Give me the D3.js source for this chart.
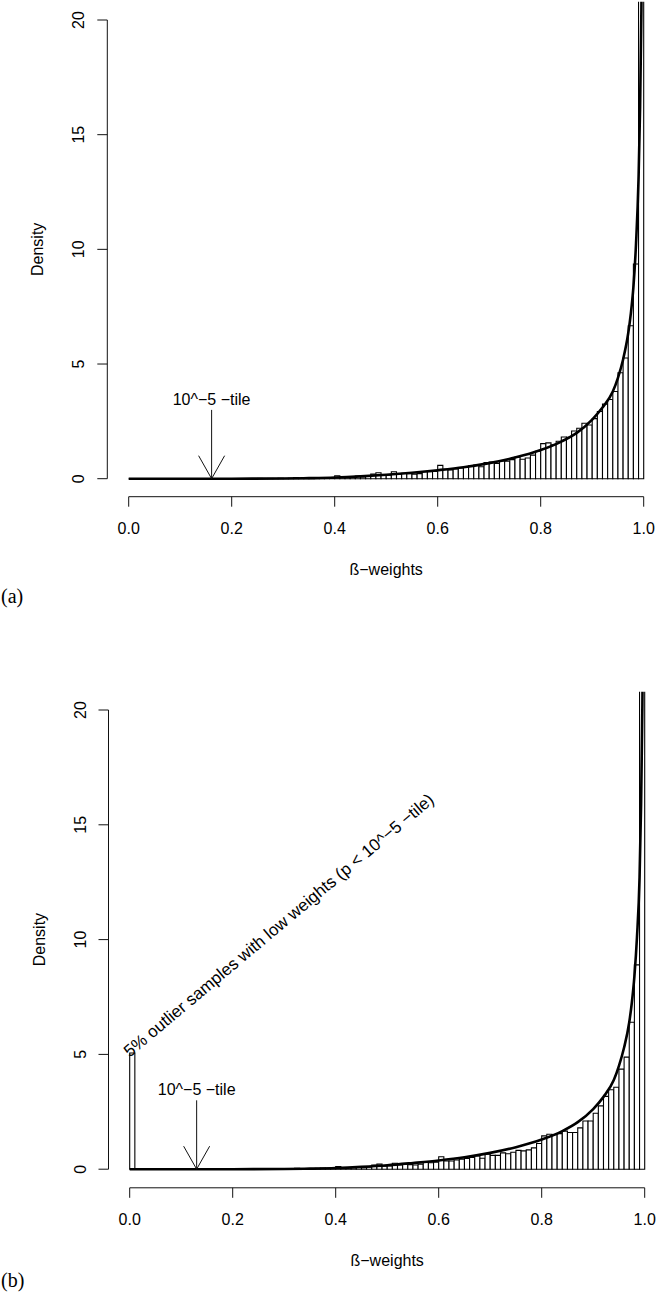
<!DOCTYPE html>
<html>
<head>
<meta charset="utf-8">
<script src="https://cdn.jsdelivr.net/npm/d3@7"></script>
<style>
  body { margin: 0; background: #fff; }
  svg { display: block; }
</style>
</head>
<body>
<div id="chart"></div>
<script>
// histogram bins are 0.01 wide, lower edges 0.00 .. 0.99
const binWidth = 0.01;

// panel (a): densities per bin (last bin runs off the top)
const densityA = [
  0, 0, 0, 0, 0, 0, 0, 0, 0, 0,
  0, 0, 0, 0, 0, 0, 0, 0, 0, 0,
  0, 0, 0, 0.01, 0, 0.01, 0, 0.01, 0.01, 0.02,
  0.01, 0.02, 0.05, 0.02, 0.03, 0.05, 0.04, 0.04, 0.05, 0.04,
  0.13, 0.05, 0.06, 0.07, 0.12, 0.08, 0.1, 0.2, 0.26, 0.14,
  0.15, 0.3, 0.2, 0.24, 0.22, 0.2, 0.22, 0.3, 0.3, 0.32,
  0.58, 0.4, 0.38, 0.43, 0.47, 0.5, 0.56, 0.6, 0.52, 0.7,
  0.73, 0.66, 0.77, 0.76, 0.83, 0.94, 0.85, 0.9, 1.03, 1.2,
  1.53, 1.56, 1.48, 1.63, 1.82, 1.8, 2.08, 2.2, 2.42, 2.34,
  2.62, 2.93, 3.25, 3.45, 3.8, 4.62, 5.26, 6.67, 9.36, 30
];

// panel (b): same data with 5% outliers in the first bin
const densityB = [
  5.06, 0, 0, 0, 0, 0, 0, 0, 0, 0,
  0, 0, 0, 0, 0, 0, 0, 0, 0, 0,
  0, 0, 0, 0, 0.01, 0, 0.01, 0.01, 0, 0.02,
  0.02, 0.01, 0.04, 0.02, 0.03, 0.03, 0.04, 0.05, 0.04, 0.05,
  0.11, 0.05, 0.06, 0.06, 0.1, 0.07, 0.09, 0.18, 0.22, 0.13,
  0.14, 0.26, 0.19, 0.22, 0.2, 0.18, 0.22, 0.29, 0.28, 0.3,
  0.54, 0.36, 0.36, 0.4, 0.44, 0.47, 0.51, 0.58, 0.48, 0.65,
  0.6, 0.6, 0.71, 0.67, 0.74, 0.82, 0.8, 0.84, 0.93, 1.12,
  1.45, 1.52, 1.5, 1.55, 1.66, 1.6, 1.6, 1.8, 2.1, 2.1,
  2.44, 2.76, 3.17, 3.46, 3.57, 4.36, 4.88, 6.4, 8.9, 30
];

// fitted density curves [x, density]
const curveA = [
  [0, 0], [0.2, 0.001], [0.3, 0.01], [0.35, 0.025], [0.4, 0.05], [0.45, 0.1],
  [0.5, 0.17], [0.55, 0.26], [0.6, 0.37], [0.65, 0.5], [0.7, 0.68], [0.75, 0.92],
  [0.8, 1.25], [0.84, 1.62], [0.87, 2.0], [0.9, 2.58], [0.92, 3.1], [0.94, 3.8],
  [0.95, 4.4], [0.96, 5.2], [0.97, 6.35], [0.975, 7.2], [0.98, 8.35], [0.985, 10.2],
  [0.99, 13.1], [0.993, 16.2], [0.995, 19.5], [0.997, 24.5], [0.999, 45]
];
const curveB = [
  [0, 0], [0.2, 0.001], [0.3, 0.01], [0.35, 0.025], [0.4, 0.05], [0.45, 0.1],
  [0.5, 0.17], [0.55, 0.27], [0.6, 0.38], [0.65, 0.52], [0.7, 0.71], [0.75, 0.96],
  [0.8, 1.29], [0.84, 1.66], [0.87, 2.05], [0.9, 2.62], [0.92, 3.15], [0.94, 3.88],
  [0.95, 4.5], [0.96, 5.3], [0.97, 6.4], [0.975, 7.25], [0.98, 8.4], [0.985, 10.1],
  [0.99, 12.7], [0.993, 15.9], [0.995, 19.3], [0.997, 24.5], [0.999, 45]
];

const xTicks = [0, 0.2, 0.4, 0.6, 0.8, 1.0];
const yTicks = [0, 5, 10, 15, 20];

// 10^-5 quantile arrows: x position and top of the arrow (density units)
const tileA = { x: 0.161, top: 3.0 };
const tileB = { x: 0.13, top: 3.0 };
const outlierNote = { x: 0, y: 4.85, text: "5% outlier samples with low weights (p < 10^\u22125 \u2212tile)" };

const sans = "'Liberation Sans', Arial, Helvetica, sans-serif";
const ink = "#111";

const svg = d3.select("#chart").append("svg")
  .attr("width", 659)
  .attr("height", 1300);

function drawPanel(cfg) {
  const x = d3.scaleLinear().domain([0, 1]).range(cfg.xRange);
  const y = d3.scaleLinear().domain([0, 20]).range(cfg.yRange);
  const g = svg.append("g");

  // plot region (R pads the limits by 4%)
  const clipId = "clip-" + cfg.id;
  g.append("clipPath").attr("id", clipId)
    .append("rect")
    .attr("x", x(-0.04)).attr("y", y(20.8))
    .attr("width", x(1.04) - x(-0.04))
    .attr("height", y(-0.8) - y(20.8));

  const plot = g.append("g").attr("clip-path", `url(#${clipId})`);

  // bars as paths so zero-height bins still show their outline
  plot.selectAll("path.bar")
    .data(cfg.density)
    .enter()
    .append("path")
    .attr("class", "bar")
    .attr("d", (d, i) => {
      const x0 = x(i * binWidth), x1 = x((i + 1) * binWidth);
      return `M${x0},${y(0)}V${y(d)}H${x1}V${y(0)}Z`;
    })
    .attr("fill", "#fff")
    .attr("stroke", "#000")
    .attr("stroke-width", 1.1);

  const line = d3.line()
    .x((d) => x(d[0]))
    .y((d) => y(d[1]))
    .curve(d3.curveMonotoneX);

  plot.append("path")
    .datum(cfg.curve)
    .attr("fill", "none")
    .attr("stroke", "#000")
    .attr("stroke-width", 2.6)
    .attr("d", line);

  // x axis
  const xAxisY = cfg.xAxisY;
  g.append("line")
    .attr("x1", x(0)).attr("x2", x(1))
    .attr("y1", xAxisY).attr("y2", xAxisY)
    .attr("stroke", ink);
  g.selectAll(".xtick").data(xTicks).enter().append("line")
    .attr("x1", (d) => x(d)).attr("x2", (d) => x(d))
    .attr("y1", xAxisY).attr("y2", xAxisY + 10)
    .attr("stroke", ink);
  g.selectAll(".xlab").data(xTicks).enter().append("text")
    .attr("x", (d) => x(d))
    .attr("y", xAxisY + 37)
    .attr("text-anchor", "middle")
    .attr("font-family", sans)
    .attr("font-size", 16)
    .text((d) => d.toFixed(1));

  // y axis
  const yAxisX = cfg.yAxisX;
  g.append("line")
    .attr("x1", yAxisX).attr("x2", yAxisX)
    .attr("y1", y(0)).attr("y2", y(20))
    .attr("stroke", ink);
  g.selectAll(".ytick").data(yTicks).enter().append("line")
    .attr("x1", yAxisX - 10).attr("x2", yAxisX)
    .attr("y1", (d) => y(d)).attr("y2", (d) => y(d))
    .attr("stroke", ink);
  g.selectAll(".ylab").data(yTicks).enter().append("text")
    .attr("transform", (d) => `translate(${yAxisX - 23},${y(d)}) rotate(-90)`)
    .attr("text-anchor", "middle")
    .attr("font-family", sans)
    .attr("font-size", 16)
    .text((d) => d);

  // axis titles
  g.append("text")
    .attr("transform", `translate(${yAxisX - 64},${y(10)}) rotate(-90)`)
    .attr("text-anchor", "middle")
    .attr("font-family", sans)
    .attr("font-size", 16)
    .text("Density");
  g.append("text")
    .attr("x", (x(-0.04) + x(1.04)) / 2)
    .attr("y", xAxisY + 78)
    .attr("text-anchor", "middle")
    .attr("font-family", sans)
    .attr("font-size", 16)
    .text("\u00df\u2212weights");

  // 10^-5 -tile arrow
  const ax = x(cfg.tile.x);
  const ay0 = y(0), ay1 = y(cfg.tile.top);
  g.append("path")
    .attr("d", `M${ax},${ay1}V${ay0}M${ax - 13},${ay0 - 23}L${ax},${ay0}L${ax + 13},${ay0 - 23}`)
    .attr("fill", "none")
    .attr("stroke", ink)
    .attr("stroke-width", 1);
  g.append("text")
    .attr("x", ax)
    .attr("y", ay1 - 5)
    .attr("text-anchor", "middle")
    .attr("font-family", sans)
    .attr("font-size", 16)
    .text("10^\u22125 \u2212tile");

  if (cfg.note) {
    g.append("text")
      .attr("transform", `translate(${x(cfg.note.x)},${y(cfg.note.y)}) rotate(-40)`)
      .attr("font-family", sans)
      .attr("font-size", 17)
      .text(cfg.note.text);
  }

  // panel tag
  svg.append("text")
    .attr("x", 1)
    .attr("y", cfg.tagY)
    .attr("font-family", "'Liberation Serif', 'DejaVu Serif', serif")
    .attr("font-size", 20)
    .text(cfg.tag);
}

drawPanel({
  id: "a",
  tag: "(a)",
  density: densityA,
  curve: curveA,
  tile: tileA,
  xRange: [128.7, 643.7],
  yRange: [478.7, 20],
  xAxisY: 496.7,
  yAxisX: 107.3,
  tagY: 603
});

drawPanel({
  id: "b",
  tag: "(b)",
  density: densityB,
  curve: curveB,
  tile: tileB,
  note: outlierNote,
  xRange: [129.7, 644.7],
  yRange: [1169.2, 710],
  xAxisY: 1187.8,
  yAxisX: 108.5,
  tagY: 1287
});
</script>
</body>
</html>
